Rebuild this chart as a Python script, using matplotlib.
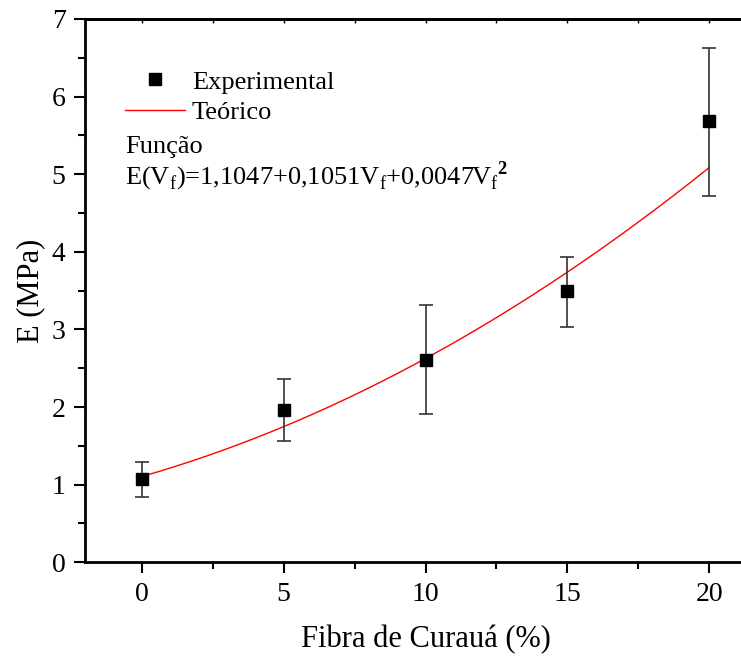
import numpy as np
import matplotlib
matplotlib.use('Agg')
import matplotlib.pyplot as plt
from matplotlib.lines import Line2D

plt.rcParams['font.family'] = 'Liberation Serif'
plt.rcParams['mathtext.fontset'] = 'custom'
plt.rcParams['mathtext.rm'] = 'Liberation Serif'
plt.rcParams['mathtext.bf'] = 'Liberation Serif:bold'

# Experimental data (fibre content %, modulus MPa, error bars)
fibra = [0, 5, 10, 15, 20]
modulo = [1.07, 1.96, 2.61, 3.49, 5.68]
err_inf = [0.23, 0.40, 0.70, 0.46, 0.96]
err_sup = [0.22, 0.40, 0.70, 0.44, 0.95]

# Theoretical fit coefficients shown on the chart: a + b*V + c*V^2
coef = [0.0047, 0.1051, 1.1047]

fig = plt.figure(figsize=(7.41, 6.57), dpi=100)
ax = fig.add_axes([85 / 741, 1 - 562.3 / 657, 681 / 741, 543.3 / 657])

vf = np.linspace(fibra[0], fibra[-1], 200)
ax.plot(vf, np.polyval(coef, vf), color='red', lw=1.0, zorder=2)
ax.errorbar(fibra, modulo, yerr=[err_inf, err_sup], fmt='s', color='black',
            ms=8, ecolor='#333333', elinewidth=1.2, capsize=5, capthick=1.2, zorder=3)

ax.set_xlim(-2, 22)
ax.set_ylim(0, 7)
ax.set_xticks([0, 5, 10, 15, 20])
ax.set_xticks([2.5, 7.5, 12.5, 17.5], minor=True)
ax.set_yticks(range(0, 8))
ax.set_yticks(np.arange(0.5, 7, 1), minor=True)
ax.tick_params(axis='both', which='major', direction='out', length=8, width=1.5,
               labelsize=20, pad=6)
ax.tick_params(axis='both', which='minor', direction='out', length=5, width=1.5)
for s in ax.spines.values():
    s.set_linewidth(2)

# small inward ticks on the top axis
top = ax.secondary_xaxis('top')
top.set_xticks([0, 2.5, 5, 7.5, 10, 12.5, 15, 17.5, 20])
top.tick_params(direction='in', length=3, width=1, labeltop=False)
top.spines['top'].set_linewidth(2)

ax.set_xlabel('Fibra de Curauá (%)', fontsize=22, labelpad=13)
ax.set_ylabel('E (MPa)', fontsize=22, labelpad=5)

handles = [Line2D([], [], marker='s', color='black', ls='none', ms=8),
           Line2D([], [], color='red', lw=1.0)]
ax.legend(handles, ['Experimental', 'Teórico'], loc='upper left',
          bbox_to_anchor=(0.039, 0.93), frameon=False, fontsize=19,
          borderpad=0, handlelength=2.3, handletextpad=0.25, labelspacing=0.25)

ax.text(0.059, 0.765, 'Função', transform=ax.transAxes, fontsize=19, va='center')
ax.text(0.059, 0.71,
        r'E(V$_\mathrm{f}$)=1,1047+0,1051V$_\mathrm{f}$+0,0047V$_\mathrm{f}$$^\mathbf{2}$',
        transform=ax.transAxes, fontsize=19, va='center')

fig.savefig('out.png', dpi=100)
